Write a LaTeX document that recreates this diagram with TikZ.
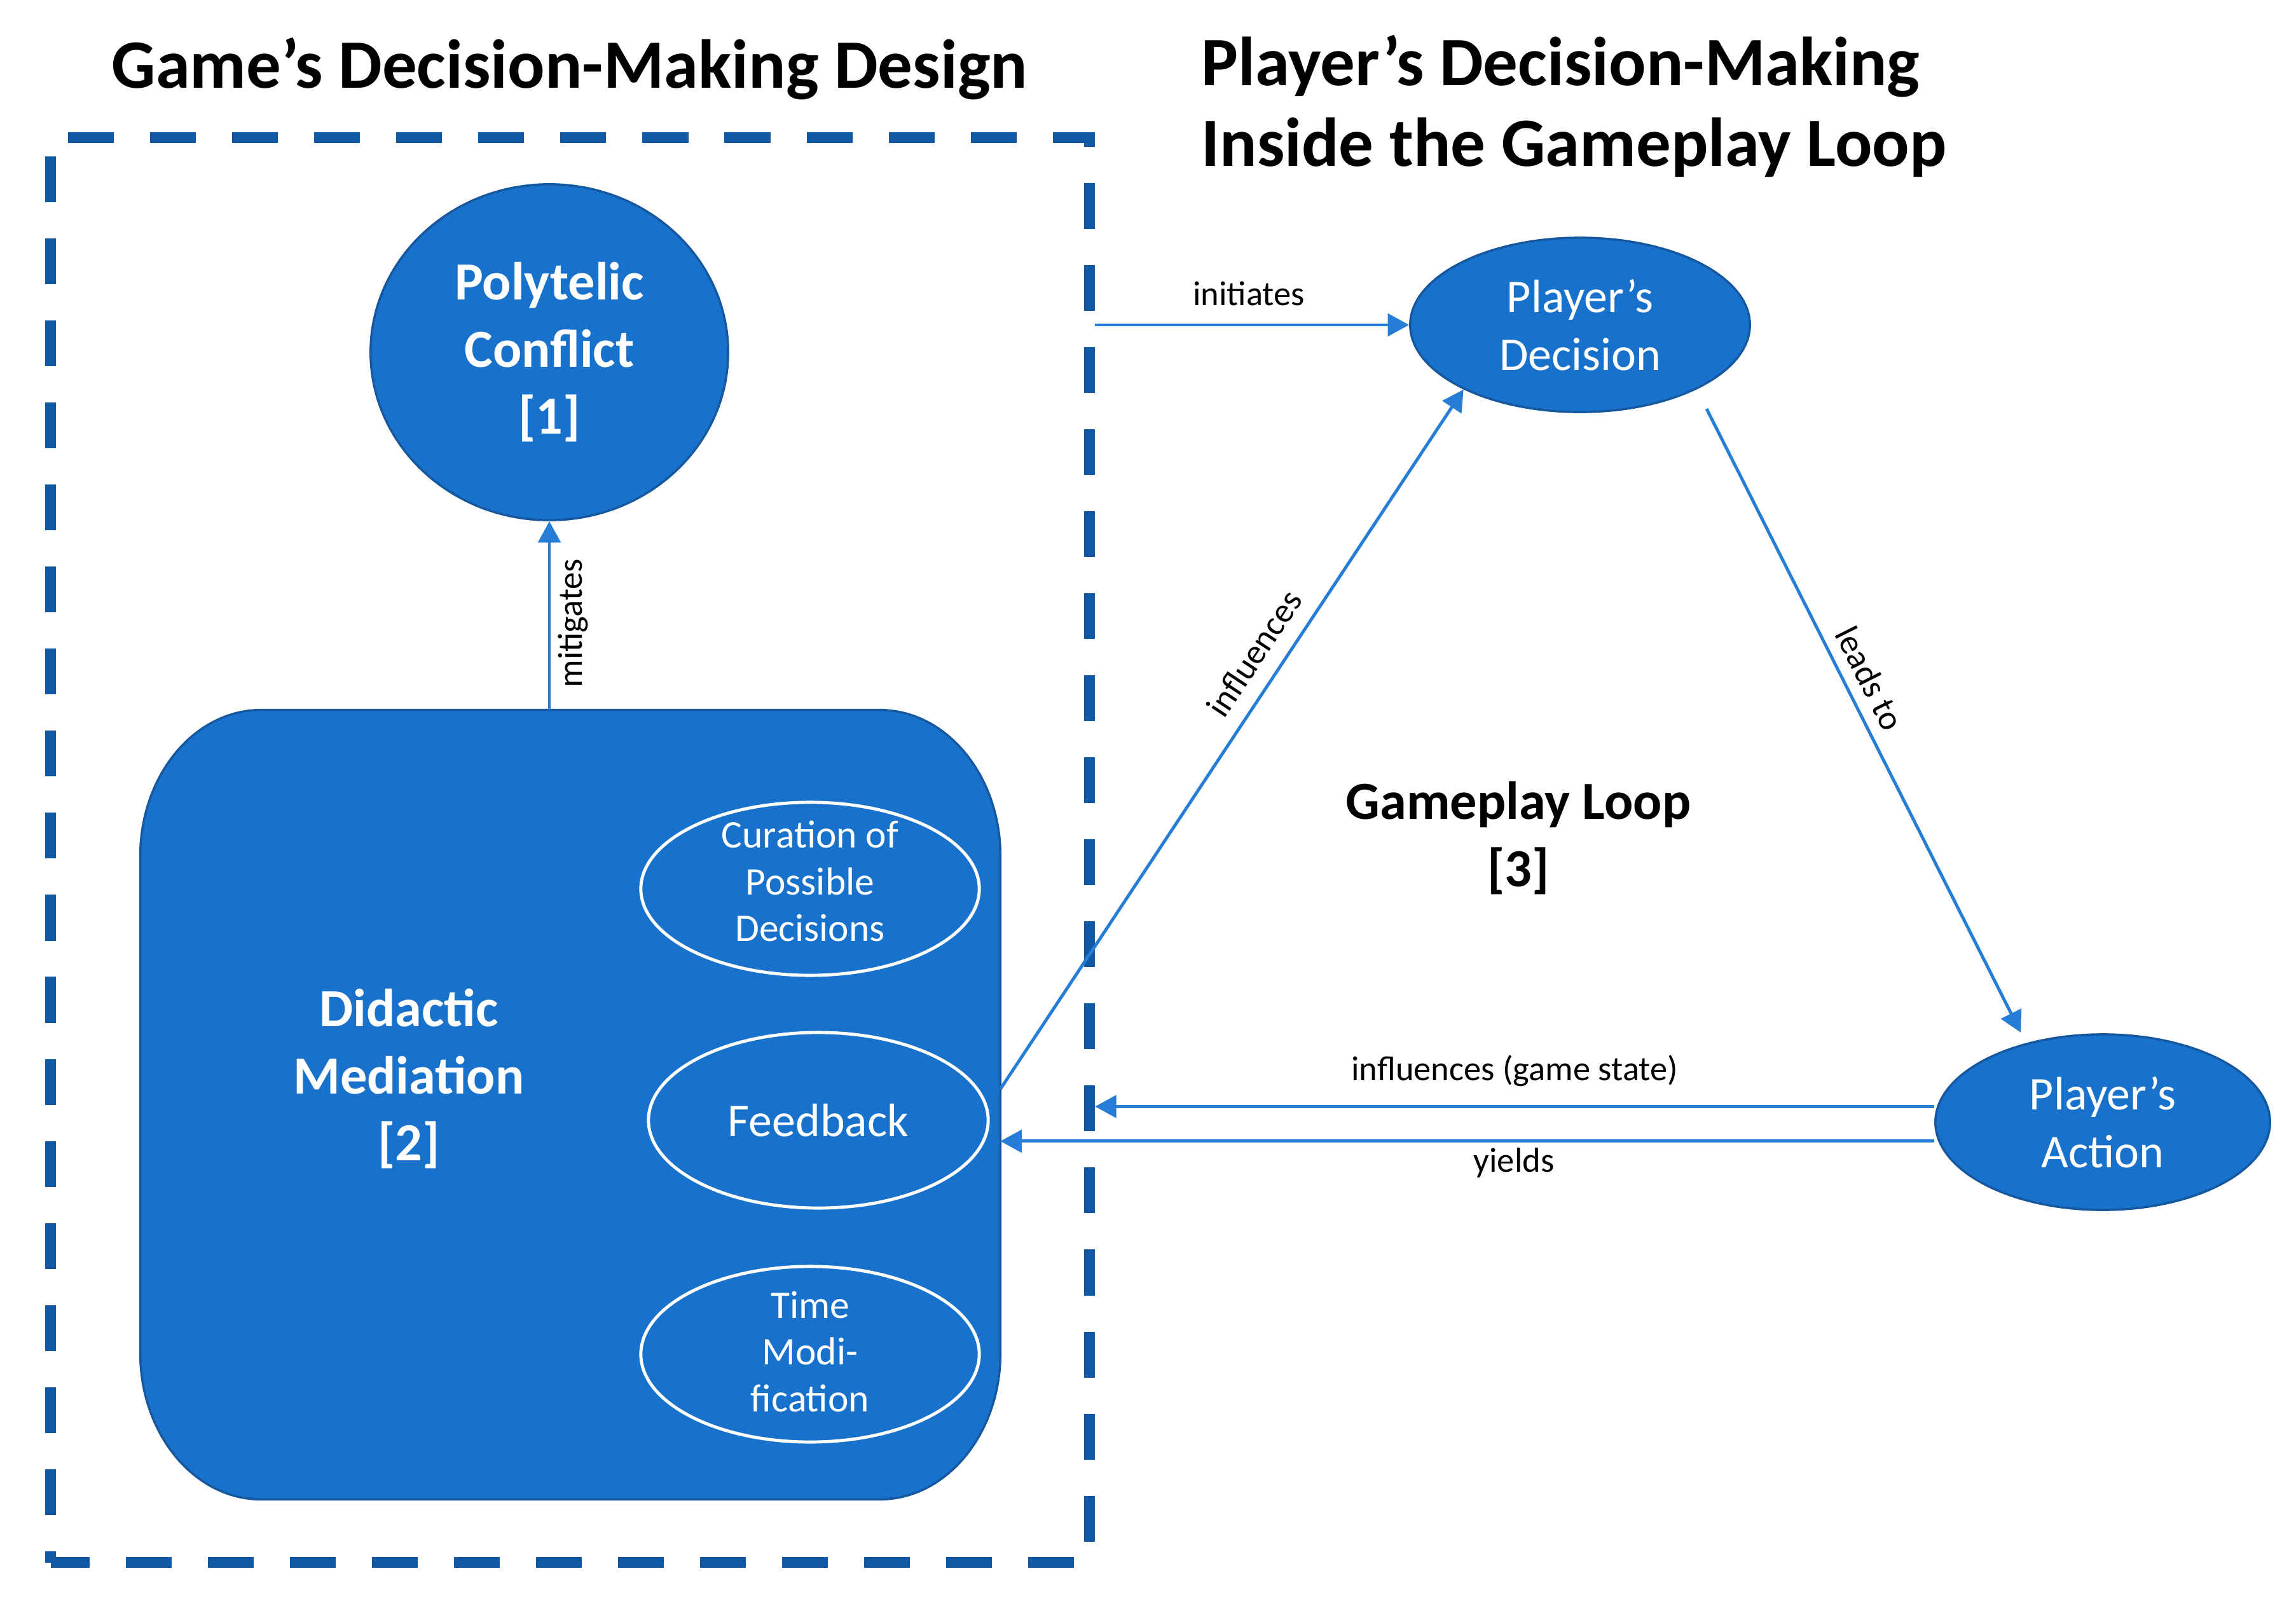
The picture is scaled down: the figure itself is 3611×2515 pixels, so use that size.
\documentclass[tikz,border=0pt]{standalone}
\usepackage{fontspec}
\setmainfont{Carlito}
\usetikzlibrary{shapes.geometric,arrows.meta,calc}
\definecolor{fillblue}{RGB}{24,114,204}
\definecolor{edgeblue}{RGB}{22,88,160}
\definecolor{framec}{RGB}{16,88,165}
\definecolor{arrowc}{RGB}{38,125,214}
\begin{document}
\begin{tikzpicture}[x=0.01cm,y=-0.01cm,
  titletxt/.style={font=\fontsize{31pt}{36pt}\selectfont\bfseries, text=black},
  bigtxt/.style={font=\fontsize{24pt}{30pt}\selectfont\bfseries, text=white, align=center},
  midtxt/.style={font=\fontsize{21pt}{26pt}\selectfont, text=white, align=center},
  smalltxt/.style={font=\fontsize{17.5pt}{21pt}\selectfont, text=white, align=center},
  lbl/.style={font=\fontsize{15.5pt}{18pt}\selectfont, text=black},
  bluenode/.style={ellipse, fill=fillblue, draw=edgeblue, line width=1pt, inner sep=0pt},
  subnode/.style={ellipse, draw=white, line width=1.4pt, inner sep=0pt, minimum width=5.32cm, minimum height=2.72cm},
  framebox/.style={draw=framec, line width=5pt, dash pattern=on 20.5pt off 16.2pt, dash phase=3.1pt, inner sep=0pt},
  arr/.style={draw=arrowc, line width=1.4pt, -{Triangle[length=9.5pt,width=10pt]}}
]
\useasboundingbox (0,0) rectangle (3611,2515);

% titles
\node[titletxt] (t1) at (896,108) {Game’s Decision-Making Design};
\node[titletxt, anchor=west, align=left] (t2) at (1877,167) {Player’s Decision-Making\\Inside the Gameplay Loop};

% dashed frame
\node[framebox, minimum width=16.33cm, minimum height=22.40cm] (frame) at (896.5,1337) {};

% didactic mediation box
\node[minimum width=13.52cm, minimum height=12.41cm, inner sep=0pt, outer sep=0pt] (dm) at (897,1737.5) {};
\filldraw[fill=fillblue, draw=edgeblue, line width=1pt]
  ([xshift=1.9cm]dm.north west) -- ([xshift=-1.9cm]dm.north east)
  arc[start angle=90, end angle=0, x radius=1.9cm, y radius=2.3cm]
  -- ([yshift=2.3cm]dm.south east)
  arc[start angle=0, end angle=-90, x radius=1.9cm, y radius=2.3cm]
  -- ([xshift=1.9cm]dm.south west)
  arc[start angle=-90, end angle=-180, x radius=1.9cm, y radius=2.3cm]
  -- ([yshift=-2.3cm]dm.north west)
  arc[start angle=180, end angle=90, x radius=1.9cm, y radius=2.3cm]
  -- cycle;
\node[bigtxt] (dmt) at (643,1697) {Didactic\\Mediation\\{}[2]};

\node[subnode] (cur) at (1274,1398) {};
\node[smalltxt] (curt) at (1274,1386) {Curation of\\Possible\\Decisions};
\node[subnode, minimum width=5.34cm, minimum height=2.76cm] (fb) at (1287,1762) {};
\node[midtxt] (fbt) at (fb) {Feedback};
\node[subnode, minimum height=2.76cm] (tm) at (1274,2130) {};
\node[smalltxt] (tmt) at (1274,2126) {Time\\Modi-\\fication};

% polytelic conflict
\node[bluenode, minimum width=5.62cm, minimum height=5.28cm] (poly) at (864,554) {};
\node[bigtxt] (polyt) at (poly) {Polytelic\\Conflict\\{}[1]};

% player's decision / action
\node[bluenode, minimum width=5.34cm, minimum height=2.74cm] (pd) at (2485,511) {};
\node[midtxt] (pdt) at (pd) {Player’s\\Decision};
\node[bluenode, minimum width=5.26cm, minimum height=2.76cm] (pa) at (3307,1765) {};
\node[midtxt] (pat) at (pa) {Player’s\\Action};

% gameplay loop label
\node[font=\fontsize{24pt}{30pt}\selectfont\bfseries, align=center] (gl) at (2388,1318) {Gameplay Loop\\{}[3]};

% connectors
\draw[arr] (poly.south |- dm.north) -- node[lbl, pos=0.46, rotate=90, anchor=north]{mitigates} (poly.south);
\draw[arr] (frame.east |- pd.west) -- node[lbl, above=4.5pt, pos=0.49]{initiates} (pd.west);
\draw[arr] ([yshift=7pt]dm.east) -- node[lbl, sloped, above=3.5pt, pos=0.6]{influences} (pd.209);
\coordinate (ld1) at ($(pd.center)+(199,132)$);
\coordinate (ld2) at ($(pa.center)+(-129,-141)$);
\draw[arr] (ld1) -- node[lbl, sloped, above=1.5pt, pos=0.45]{leads to} (ld2);
\coordinate (s1) at ([yshift=7pt]pa.west);
\draw[arr] (s1) -- node[lbl, above=5pt, midway]{influences (game state)} (frame.east |- s1);
\coordinate (s2) at ([yshift=-8.5pt]pa.west);
\draw[arr] (s2) -- node[lbl, below=-1pt, pos=0.45]{yields} (dm.east |- s2);
\end{tikzpicture}
\end{document}
